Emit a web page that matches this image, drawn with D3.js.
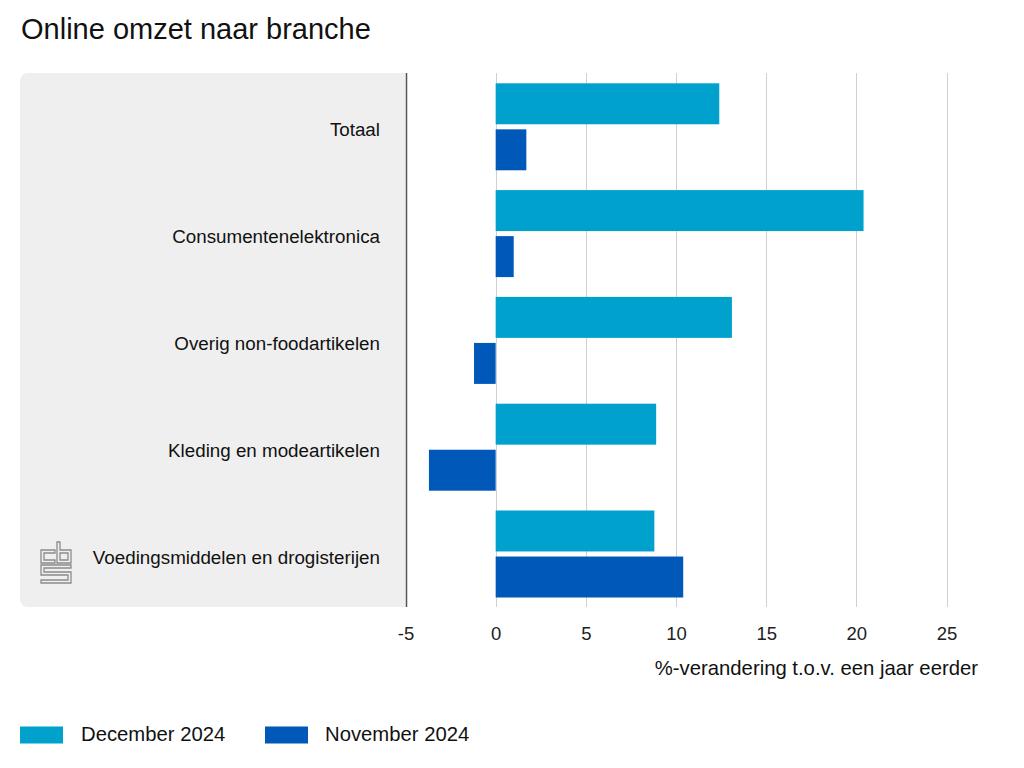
<!DOCTYPE html>
<html>
<head>
<meta charset="utf-8">
<script src="https://cdn.jsdelivr.net/npm/d3@7"></script>
<style>
  html, body { margin: 0; padding: 0; background: #fff; }
  svg { display: block; font-family: "Liberation Sans", Arial, Helvetica, sans-serif; }
</style>
</head>
<body>
<svg id="chart" width="1024" height="768"></svg>
<script>
// ---- data ----
const categories = ["Totaal", "Consumentenelektronica", "Overig non-foodartikelen", "Kleding en modeartikelen", "Voedingsmiddelen en drogisterijen"];
const seriesNames = ["December 2024", "November 2024"];
const december2024 = [12.4, 20.4, 13.1, 8.9, 8.8];
const november2024 = [1.7, 1.0, -1.2, -3.7, 10.4];
const xTicks = [-5, 0, 5, 10, 15, 20, 25];
const colors = ["#00a1cd", "#0058b8"];
const title = "Online omzet naar branche";
const xAxisTitle = "%-verandering t.o.v. een jaar eerder";

const seriesValues = [december2024, november2024];

const svg = d3.select("#chart");

// layout
const plotTop = 73, plotBottom = 607;
const panelLeft = 20;
const x = d3.scaleLinear().domain([-5, 25]).range([405.5, 946.5]);
const y = d3.scaleBand().domain(categories).range([plotTop, plotBottom]).padding(0);
const ySub = d3.scaleBand().domain(seriesNames).range([10.3, y.bandwidth() - 9.5]).paddingInner(0.11).paddingOuter(0);

// title
svg.append("text")
  .attr("x", 21).attr("y", 39)
  .attr("font-size", 29)
  .attr("fill", "#111")
  .text(title);

// gray panel for labels
svg.append("path")
  .attr("d", (() => {
    const r = 9, l = panelLeft, t = plotTop, rt = x(-5), b = plotBottom;
    return `M${l + r},${t} H${rt} V${b} H${l + r} Q${l},${b} ${l},${b - r} V${t + r} Q${l},${t} ${l + r},${t} Z`;
  })())
  .attr("fill", "#efefef");

// grid lines
svg.append("g")
  .selectAll("line")
  .data(xTicks.filter(t => t !== -5))
  .join("line")
  .attr("x1", d => Math.round(x(d)) + 0.5).attr("x2", d => Math.round(x(d)) + 0.5)
  .attr("y1", plotTop).attr("y2", plotBottom)
  .attr("stroke", "#d0d0d0").attr("stroke-width", 1);

// axis (tick labels) via d3.axisBottom
const xAxis = d3.axisBottom(x).tickValues(xTicks).tickSize(0).tickPadding(0).tickFormat(d => String(d));
const gx = svg.append("g").attr("transform", `translate(0, ${plotBottom + 20})`).call(xAxis);
gx.select(".domain").remove();
gx.selectAll("text")
  .attr("font-size", 18.5)
  .attr("fill", "#222")
  .attr("font-family", "\"Liberation Sans\", Arial, sans-serif")
  .attr("dy", "0.71em");

// left vertical axis line
svg.append("line")
  .attr("x1", Math.round(x(-5)) + 0.5).attr("x2", Math.round(x(-5)) + 0.5)
  .attr("y1", plotTop).attr("y2", plotBottom)
  .attr("stroke", "#555").attr("stroke-width", 1.5);

// bars
const groups = svg.append("g")
  .selectAll("g")
  .data(categories)
  .join("g")
  .attr("transform", d => `translate(0, ${y(d)})`);

groups.selectAll("rect")
  .data((c, i) => seriesNames.map((s, j) => ({ series: s, value: seriesValues[j][i], color: colors[j] })))
  .join("rect")
  .attr("x", d => x(Math.min(0, d.value)))
  .attr("width", d => Math.abs(x(d.value) - x(0)))
  .attr("y", d => ySub(d.series))
  .attr("height", ySub.bandwidth())
  .attr("fill", d => d.color);

// category labels
svg.append("g")
  .selectAll("text")
  .data(categories)
  .join("text")
  .attr("x", 380)
  .attr("y", d => y(d) + y.bandwidth() / 2 + 10)
  .attr("text-anchor", "end")
  .attr("font-size", 18.8)
  .attr("fill", "#111")
  .text(d => d);

// x axis title
svg.append("text")
  .attr("x", 978).attr("y", 675)
  .attr("text-anchor", "end")
  .attr("font-size", 20.3)
  .attr("fill", "#111")
  .text(xAxisTitle);

// legend
const legendPos = [{ sx: 20, tx: 81 }, { sx: 265, tx: 325 }];
const legend = svg.append("g").selectAll("g").data(seriesNames).join("g");
legend.append("rect")
  .attr("x", (d, i) => legendPos[i].sx).attr("y", 726.5)
  .attr("width", 43).attr("height", 17)
  .attr("fill", (d, i) => colors[i]);
legend.append("text")
  .attr("x", (d, i) => legendPos[i].tx).attr("y", 741)
  .attr("font-size", 20.3)
  .attr("fill", "#111")
  .text(d => d);

// CBS logo (outline style)
const logo = svg.append("g").attr("fill", "none").attr("stroke", "#8c8c8c").attr("stroke-width", 1.3);
// "c"
logo.append("path").attr("d", "M55,550 H41 V563 H55 V560 H44 V553 H55 Z");
// "b"
logo.append("path").attr("d", "M57,542 V563 H71 V550 H60 V542 Z M60,553 H68 V560 H60 Z");
// "S"
logo.append("path").attr("d", "M41,565 H71 V568 H44 V572 H71 V583 H41 V580 H68 V575 H41 Z");
</script>
</body>
</html>
